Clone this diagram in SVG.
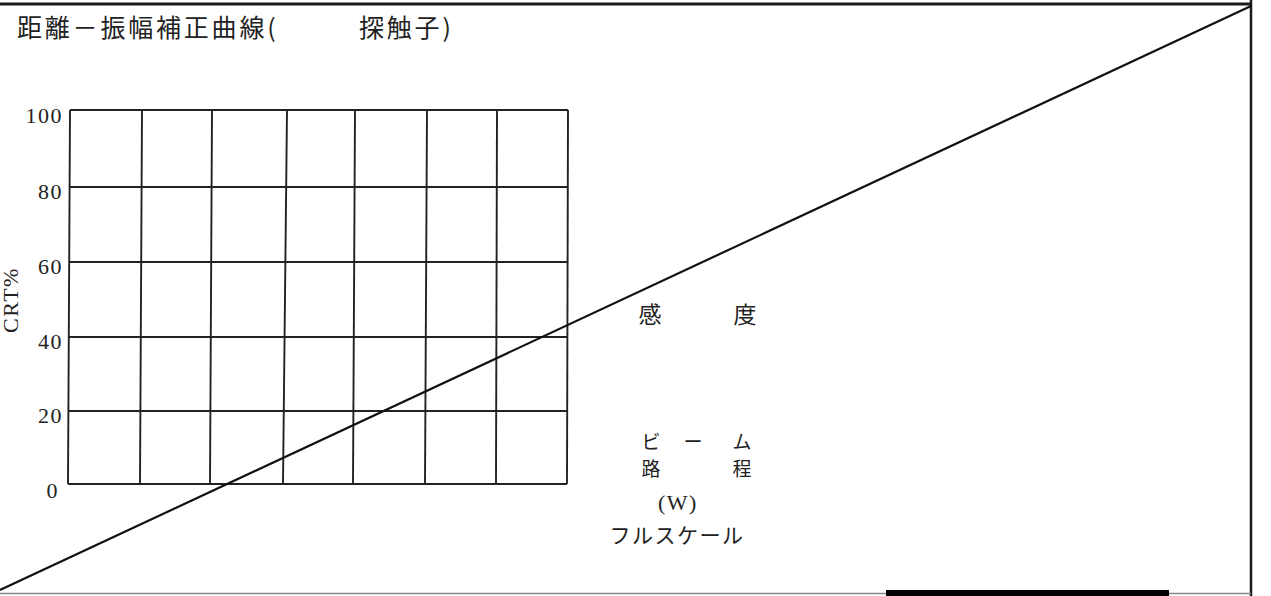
<svg xmlns="http://www.w3.org/2000/svg" width="1271" height="596" viewBox="0 0 1271 596">
<style>
.frame{stroke:#1a1a1a;fill:none}
.grid line{stroke:#222;stroke-width:1.9}
.jp{font-family:"Noto Sans CJK JP","Noto Sans CJK SC",sans-serif;fill:#222}
.num{font-family:"Liberation Serif","DejaVu Serif",serif;fill:#222;font-size:22px;letter-spacing:1.5px}
</style>
<rect width="1271" height="596" fill="#ffffff"/>
<g id="frame">
<line class="frame" x1="0" y1="4" x2="1252" y2="4" stroke-width="3"/>
<line class="frame" x1="1251" y1="0" x2="1251" y2="596" stroke-width="2.5"/>
<line x1="0" y1="593.5" x2="1251" y2="593.5" stroke="#888" stroke-width="1.5"/>
<rect x="886" y="590" width="283" height="6" fill="#000"/>
</g>
<g id="title">
<text class="jp" x="17" y="37" font-size="25" letter-spacing="2.8">距離－振幅補正曲線(</text>
<text class="jp" x="359" y="37" font-size="25" letter-spacing="2.8">探触子)</text>
</g>
<g id="chart" class="grid">
<line x1="70" y1="110" x2="568" y2="110"/>
<line x1="70" y1="187" x2="568" y2="187"/>
<line x1="69" y1="262" x2="567" y2="262"/>
<line x1="69" y1="337" x2="567" y2="337"/>
<line x1="68" y1="411" x2="567" y2="411"/>
<line x1="68" y1="484" x2="567" y2="484"/>
<line x1="70" y1="110" x2="68" y2="484"/>
<line x1="142" y1="110" x2="140" y2="484"/>
<line x1="212" y1="110" x2="210" y2="484"/>
<line x1="287" y1="110" x2="283" y2="484"/>
<line x1="355" y1="110" x2="353" y2="484"/>
<line x1="427" y1="110" x2="425" y2="484"/>
<line x1="497" y1="110" x2="496" y2="484"/>
<line x1="568" y1="110" x2="567" y2="484"/>
</g>
<g id="yaxis">
<text class="num" x="63" y="123" text-anchor="end">100</text>
<text class="num" x="63" y="199" text-anchor="end">80</text>
<text class="num" x="63" y="274" text-anchor="end">60</text>
<text class="num" x="63" y="349" text-anchor="end">40</text>
<text class="num" x="63" y="423" text-anchor="end">20</text>
<text class="num" x="59" y="498" text-anchor="end">0</text>
<text class="num" font-size="17" letter-spacing="0" transform="translate(18,300) rotate(-90)" text-anchor="middle">CRT%</text>
</g>
<g id="connectors">
<line x1="0" y1="590" x2="1251" y2="6" stroke="#111" stroke-width="2.2"/>
</g>
<g id="labels">
<text class="jp" x="650" y="323" text-anchor="middle" font-size="23">感</text>
<text class="jp" x="745" y="323" text-anchor="middle" font-size="23">度</text>
<text class="jp" x="651" y="449" text-anchor="middle" font-size="19">ビ</text>
<text class="jp" x="693" y="449" text-anchor="middle" font-size="19">ー</text>
<text class="jp" x="742" y="449" text-anchor="middle" font-size="19">ム</text>
<text class="jp" x="651" y="476" text-anchor="middle" font-size="19">路</text>
<text class="jp" x="742" y="476" text-anchor="middle" font-size="19">程</text>
<text class="num" x="678" y="510" text-anchor="middle" font-size="23" letter-spacing="0">(W)</text>
<text class="jp" x="677" y="543" text-anchor="middle" font-size="21" letter-spacing="1.5">フルスケール</text>
</g>
</svg>
